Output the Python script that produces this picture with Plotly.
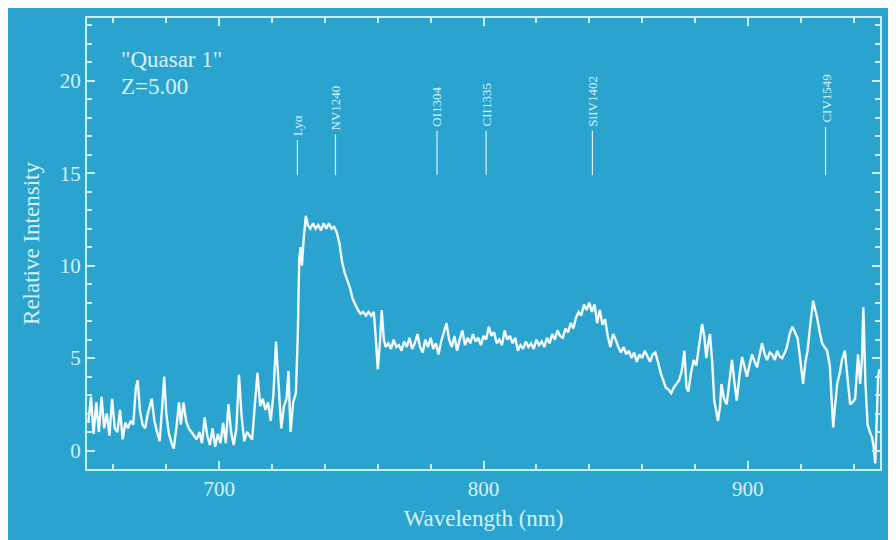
import plotly.graph_objects as go

# ---- data ----
wavelength = [
    650.5, 651.5, 652.5, 653.5, 654.5, 655.5, 656.5, 657.5, 658.5, 659.5,
    660.5, 661.5, 662.5, 663.5, 664.5, 665.5, 666.5, 667.5, 668.5, 669.2,
    670.0, 671.0, 672.0, 673.0, 674.5, 675.5, 676.5, 677.5, 678.5, 679.2,
    680.0, 681.0, 682.0, 682.8, 683.8, 684.8, 685.5, 686.5, 687.5, 688.5,
    689.5, 690.5, 691.5, 692.5, 693.5, 694.5, 695.5, 696.5, 697.5, 698.5,
    699.5, 700.5, 701.5, 702.5, 703.5, 704.5, 705.5, 706.5, 707.5, 708.5,
    709.5, 710.5, 711.5, 712.5, 713.5, 714.5, 715.5, 716.5, 717.5, 718.5,
    719.5, 720.5, 721.5, 722.5, 723.5, 724.5, 725.5, 726.2, 727.0, 728.0,
    729.0, 729.7, 730.3, 730.8, 731.3, 732.0, 732.8, 733.5, 734.5, 735.5,
    736.5, 737.5, 738.5, 739.5, 740.5, 741.5, 742.5, 743.5, 744.5, 745.5,
    746.5, 747.5, 748.5, 749.5, 750.5, 751.5, 752.5, 753.5, 754.5, 755.5,
    756.5, 757.5, 758.5, 759.2, 760.0, 760.8, 761.5, 762.3, 763.0, 764.0,
    765.0, 766.0, 767.0, 768.0, 769.0, 770.0, 771.0, 772.0, 773.0, 774.0,
    775.0, 776.0, 777.0, 778.0, 779.0, 780.0, 781.0, 782.0, 783.0, 784.0,
    785.0, 786.0, 787.0, 788.0, 789.0, 790.0, 791.0, 792.0, 793.0, 794.0,
    795.0, 796.0, 797.0, 798.0, 799.0, 800.0, 801.0, 802.0, 803.0, 804.0,
    805.0, 806.0, 807.0, 808.0, 809.0, 810.0, 811.0, 812.0, 813.0, 814.0,
    815.0, 816.0, 817.0, 818.0, 819.0, 820.0, 821.0, 822.0, 823.0, 824.0,
    825.0, 826.0, 827.0, 828.0, 829.0, 830.0, 831.0, 832.0, 833.0, 834.0,
    835.0, 836.0, 837.0, 838.0, 839.0, 840.0, 841.0, 842.0, 843.0, 844.0,
    845.0, 846.0, 847.0, 848.0, 849.0, 850.0, 851.0, 852.0, 853.0, 854.0,
    855.0, 856.0, 857.0, 858.0, 859.0, 860.0, 861.0, 862.0, 863.0, 864.0,
    865.0, 866.0, 867.0, 868.0, 869.0, 870.0, 871.0, 872.0, 873.0, 874.0,
    875.0, 876.0, 876.8, 877.5, 878.5, 879.5, 880.5, 881.5, 882.7, 883.5,
    884.3, 885.0, 885.7, 886.5, 887.3, 888.7, 889.5, 890.0, 891.0, 892.0,
    893.0, 894.0, 895.0, 895.8, 896.8, 897.8, 898.8, 899.7, 900.6, 901.6,
    902.6, 903.5, 904.5, 905.4, 906.4, 907.3, 908.3, 909.2, 910.2, 911.1,
    912.0, 913.0, 914.0, 914.8, 915.8, 916.9, 917.8, 918.8, 919.6, 920.9,
    921.8, 922.6, 923.6, 924.7, 925.5, 926.2, 927.2, 928.1, 929.0, 930.0,
    931.0, 931.7, 932.3, 933.0, 933.8, 934.8, 935.6, 936.7, 937.6, 938.7,
    939.6, 940.6, 941.7, 942.5, 943.2, 943.7, 944.5, 945.3, 946.2, 947.0,
    947.6, 948.2, 948.8, 949.3, 949.8,
]
intensity = [
    1.5, 2.9, 0.9, 2.6, 1.0, 2.9, 1.2, 2.0, 0.8, 2.8,
    1.2, 1.0, 2.2, 0.6, 1.5, 1.2, 1.6, 1.4, 3.4, 3.8,
    2.2, 1.4, 1.2, 2.0, 2.8, 1.6, 1.0, 0.5, 2.5, 4.0,
    2.0, 0.9, 0.4, 0.1, 1.2, 2.6, 1.4, 2.6, 1.6, 1.2,
    1.0, 0.8, 0.6, 1.0, 0.4, 1.8, 0.8, 0.3, 1.2, 0.2,
    0.9, 0.4, 1.5, 0.4, 2.5, 1.0, 0.3, 1.2, 4.1, 1.8,
    0.5, 1.0, 0.8, 0.6, 2.5, 4.2, 2.4, 2.8, 2.2, 2.6,
    1.6, 3.0, 5.9, 3.5, 1.2, 2.4, 2.8, 4.3, 1.0, 2.6,
    3.1, 6.0, 10.4, 11.0, 10.0, 11.5, 12.7, 12.2, 12.0, 12.3,
    12.0, 12.2, 11.9, 12.3, 12.0, 12.3, 12.0, 12.1, 11.8, 11.2,
    10.2, 9.6, 9.2, 8.8, 8.2, 7.9, 7.6, 7.4, 7.5, 7.3,
    7.5, 7.3, 7.5, 6.2, 4.4, 5.8, 7.6, 6.0, 5.6, 5.8,
    5.5, 6.0, 5.6, 5.7, 5.4, 5.9, 5.6, 6.1, 5.5, 5.8,
    6.3, 5.6, 5.3, 6.0, 5.6, 6.1, 5.5, 5.8, 5.2, 5.9,
    6.4, 6.9, 6.0, 5.6, 6.2, 5.4, 6.0, 6.5, 5.7, 6.1,
    5.8, 6.3, 5.9, 6.1, 5.7, 6.2, 6.0, 6.7, 6.2, 6.4,
    5.8, 6.0, 5.7, 6.5, 6.0, 6.2, 5.8, 6.1, 5.4, 5.7,
    5.5, 5.9, 5.6, 5.8, 5.5, 6.0, 5.7, 5.9, 5.6, 6.1,
    5.8, 6.3, 6.0, 6.5, 6.2, 6.1, 6.6, 6.4, 6.9, 6.6,
    7.2, 7.5, 7.3, 7.9, 7.6, 8.0, 7.5, 7.9, 6.9, 7.6,
    6.8, 7.1, 6.2, 5.6, 6.3, 6.0, 5.6, 5.3, 5.6, 5.2,
    5.4, 5.0, 5.3, 4.8, 5.2, 5.0, 5.4, 5.1, 4.8, 5.2,
    5.3, 4.8, 4.2, 3.8, 3.4, 3.3, 3.1, 3.4, 3.6, 3.8,
    4.3, 5.4, 3.4, 3.2, 4.2, 4.9, 4.6, 5.6, 6.85, 6.2,
    5.0, 5.8, 6.3, 4.8, 2.7, 1.6, 2.4, 3.6, 2.8, 2.5,
    3.8, 4.9, 3.6, 2.7, 4.0, 5.05, 4.5, 4.0, 4.6, 5.2,
    4.8, 4.5, 5.2, 5.8, 5.2, 4.9, 5.3, 5.2, 4.9, 5.4,
    5.1, 5.0, 5.3, 5.6, 6.3, 6.7, 6.4, 6.1, 5.2, 3.6,
    4.8, 5.4, 6.8, 8.1, 7.6, 7.2, 6.4, 5.8, 5.6, 5.4,
    4.6, 3.0, 1.25, 2.4, 3.6, 4.2, 4.9, 5.4, 4.2, 2.5,
    2.6, 2.8, 5.2, 3.6, 5.0, 7.75, 3.6, 1.4, 1.0, 0.7,
    0.2, -0.7, 1.8, 4.0, 4.4,
]

line_names = ["Lyα", "NV1240", "OI1304", "CII1335", "SiIV1402", "CIV1549"]
line_positions = [729.6, 744.0, 782.4, 801.0, 841.2, 929.4]
line_bottom = 14.9
line_tops = [16.8, 17.1, 17.3, 17.3, 17.3, 17.5]

title_lines = ['"Quasar 1"', "Z=5.00"]

# ---- style ----
BLUE = "#2aa4cf"
TXT = "#d6f1fa"
AX = "#cdeef9"
FONT = "Liberation Serif"

fig = go.Figure()

fig.add_trace(go.Scatter(
    x=wavelength, y=intensity, mode="lines",
    line=dict(color="#f4fbff", width=2.4),
    hoverinfo="skip", showlegend=False,
))

for name, pos, top in zip(line_names, line_positions, line_tops):
    fig.add_trace(go.Scatter(
        x=[pos, pos], y=[line_bottom, top], mode="lines",
        line=dict(color=TXT, width=1.2), hoverinfo="skip", showlegend=False,
    ))
    fig.add_annotation(
        x=pos, y=top, text=name, textangle=-90, showarrow=False,
        xanchor="center", yanchor="bottom", yshift=2,
        font=dict(family=FONT, size=13, color=TXT),
    )

fig.add_annotation(xref="paper", yref="paper", x=0.040, y=0.909,
                   text=title_lines[0], showarrow=False, xanchor="left", yanchor="middle",
                   font=dict(family=FONT, size=23, color=TXT))
fig.add_annotation(xref="paper", yref="paper", x=0.040, y=0.849,
                   text=title_lines[1], showarrow=False, xanchor="left", yanchor="middle",
                   font=dict(family=FONT, size=23, color=TXT))

axis_common = dict(
    showline=True, linecolor=AX, linewidth=2, mirror="ticks",
    ticks="inside", ticklen=8, tickwidth=1.5, tickcolor=AX,
    showgrid=False, zeroline=False,
    tickfont=dict(family=FONT, size=21, color=TXT),
)

fig.update_xaxes(
    range=[650, 950], tick0=700, dtick=100,
    minor=dict(dtick=20, tick0=700, ticks="inside", ticklen=5, tickwidth=1.5, tickcolor=AX, showgrid=False),
    title=dict(text="Wavelength (nm)", font=dict(family=FONT, size=23, color=TXT), standoff=10),
    **axis_common,
)
fig.update_yaxes(
    range=[-1, 23.4], tick0=0, dtick=5,
    minor=dict(dtick=1, tick0=0, ticks="inside", ticklen=5, tickwidth=1.5, tickcolor=AX, showgrid=False),
    title=dict(text="Relative Intensity", font=dict(family=FONT, size=23, color=TXT), standoff=14),
    **axis_common,
)

fig.update_layout(
    width=896, height=540,
    margin=dict(l=79, r=24, t=10, b=79, autoexpand=False),
    paper_bgcolor=BLUE, plot_bgcolor=BLUE,
    showlegend=False,
)

fig.write_html("out.html")
